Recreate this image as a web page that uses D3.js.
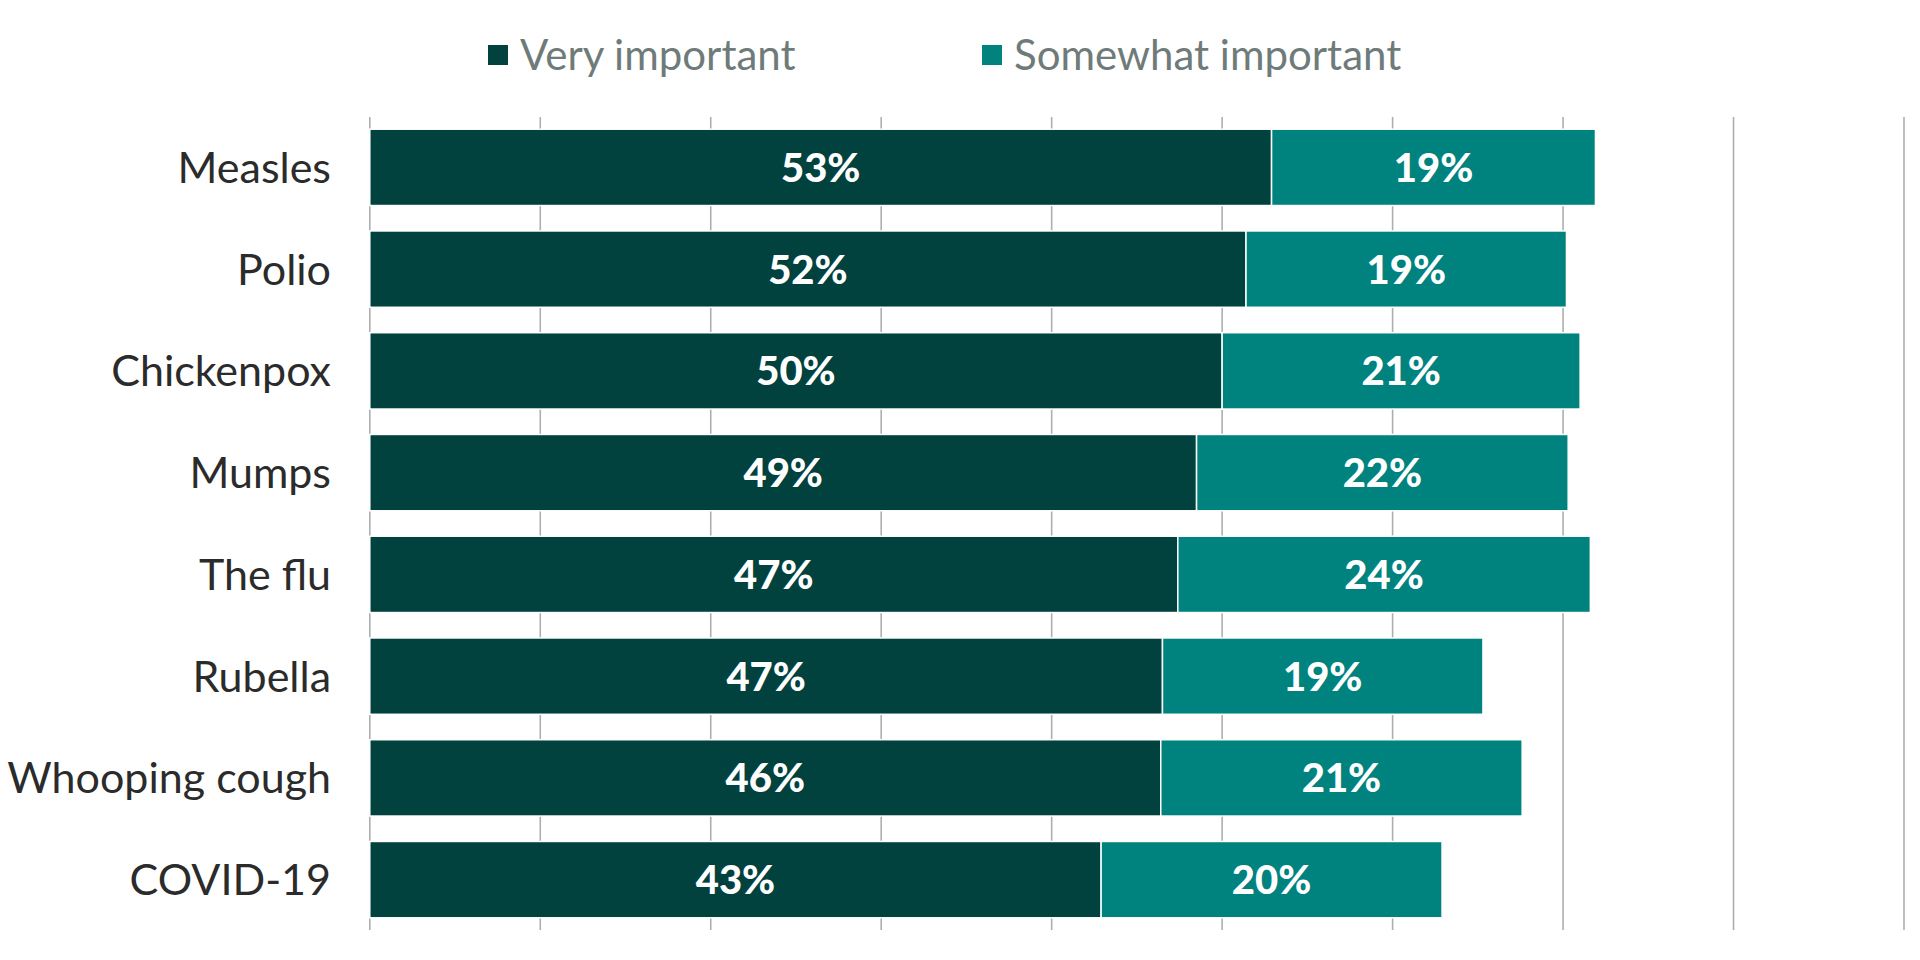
<!DOCTYPE html>
<html>
<head>
<meta charset="utf-8">
<script src="https://cdn.jsdelivr.net/npm/d3@7"></script>
<style>
  body { margin: 0; background: #fff; }
  .cat { font-family: Lato, "Open Sans", sans-serif; font-size: 43px; fill: #2b2b2b; }
  .legend text { font-family: Lato, "Open Sans", sans-serif; font-size: 42px; fill: #6f7b79; }
  .barLabel { font-family: Lato, "Open Sans", sans-serif; font-size: 40px; font-weight: 900; fill: #fff; }
</style>
</head>
<body>
<div id="chart"></div>
<script>
// chart values
var categories = ["Measles", "Polio", "Chickenpox", "Mumps", "The flu", "Rubella", "Whooping cough", "COVID-19"];
var veryImportant = [52.9, 51.4, 50.0, 48.5, 47.4, 46.5, 46.4, 42.9];
var somewhatImportant = [19.0, 18.8, 21.0, 21.8, 24.2, 18.8, 21.2, 20.0];
var veryLabels = ["53%", "52%", "50%", "49%", "47%", "47%", "46%", "43%"];
var somewhatLabels = ["19%", "19%", "21%", "22%", "24%", "19%", "21%", "20%"];
var seriesNames = ["Very important", "Somewhat important"];
var gridTicks = [0, 10, 20, 30, 40, 50, 60, 70, 80, 90];

var svgWidth = 1920;
var svgHeight = 960;

var colors = { "Very important": "#01423f", "Somewhat important": "#00837f" };

var svg = d3.select("#chart")
  .append("svg")
  .attr("width", svgWidth)
  .attr("height", svgHeight);

// scales
var x = d3.scaleLinear()
  .domain([0, 90])
  .range([369.8, 1904]);

var y = d3.scaleBand()
  .domain(categories)
  .range([117, 930])
  .paddingInner(0.25)
  .paddingOuter(0.12);

// gridlines
svg.append("g")
  .selectAll("line")
  .data(gridTicks)
  .enter()
  .append("line")
  .attr("x1", d => x(d))
  .attr("x2", d => x(d))
  .attr("y1", 117)
  .attr("y2", 930)
  .attr("stroke", "#abb0ae")
  .attr("stroke-width", 1.6);

// rows
var rows = categories.map((c, i) => ({
  cat: c,
  very: veryImportant[i],
  some: somewhatImportant[i],
  veryLabel: veryLabels[i],
  someLabel: somewhatLabels[i]
}));

var row = svg.append("g")
  .selectAll("g")
  .data(rows)
  .enter()
  .append("g");

row.append("rect")
  .attr("x", x(0))
  .attr("y", d => y(d.cat))
  .attr("width", d => x(d.very) - x(0))
  .attr("height", y.bandwidth())
  .attr("fill", colors["Very important"])
  .attr("stroke", "#fff")
  .attr("stroke-width", 1.5);

row.append("rect")
  .attr("x", d => x(d.very))
  .attr("y", d => y(d.cat))
  .attr("width", d => x(d.very + d.some) - x(d.very))
  .attr("height", y.bandwidth())
  .attr("fill", colors["Somewhat important"])
  .attr("stroke", "#fff")
  .attr("stroke-width", 1.5);

row.append("text")
  .classed("barLabel", true)
  .attr("x", d => (x(0) + x(d.very)) / 2)
  .attr("y", d => y(d.cat) + y.bandwidth() / 2)
  .attr("dy", "0.36em")
  .attr("text-anchor", "middle")
  .text(d => d.veryLabel);

row.append("text")
  .classed("barLabel", true)
  .attr("x", d => (x(d.very) + x(d.very + d.some)) / 2)
  .attr("y", d => y(d.cat) + y.bandwidth() / 2)
  .attr("dy", "0.36em")
  .attr("text-anchor", "middle")
  .text(d => d.someLabel);

// category labels
row.append("text")
  .classed("cat", true)
  .attr("x", 331)
  .attr("y", d => y(d.cat) + y.bandwidth() / 2)
  .attr("dy", "0.36em")
  .attr("text-anchor", "end")
  .text(d => d.cat);

// legend
var legendX = [488, 982];
var legend = svg.append("g")
  .classed("legend", true)
  .selectAll("g")
  .data(seriesNames)
  .enter()
  .append("g")
  .attr("transform", (d, i) => `translate(${legendX[i]}, 45)`);

legend.append("rect")
  .attr("width", 20)
  .attr("height", 20)
  .attr("fill", d => colors[d]);

legend.append("text")
  .attr("x", 32)
  .attr("y", 24.5)
  .text(d => d);
</script>
</body>
</html>
